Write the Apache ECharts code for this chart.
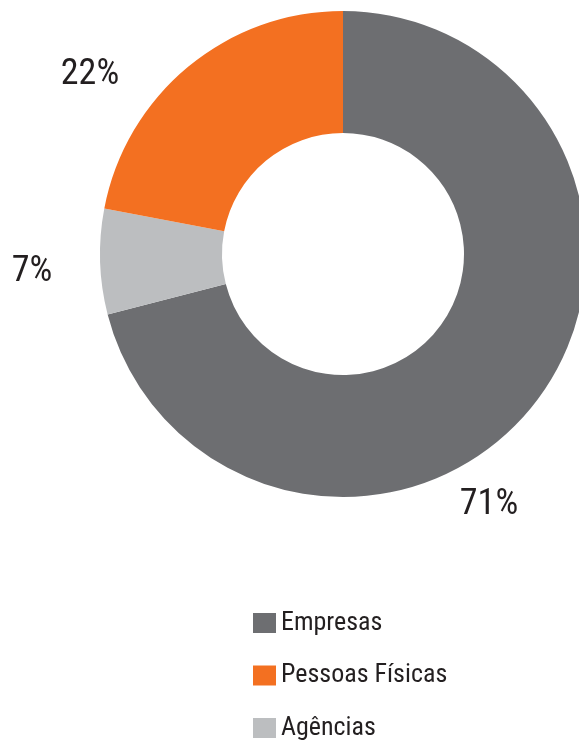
<!DOCTYPE html>
<html><head><meta charset="utf-8">
<style>html,body{margin:0;padding:0;background:#fff}#c{width:579px;height:742px}</style>
<script src="https://cdn.jsdelivr.net/npm/echarts@6/dist/echarts.min.js"></script>
</head><body><div id="c"></div>
<script>
const categories = ['Empresas', 'Agências', 'Pessoas Físicas'];
const values = [71, 7, 22];
const legendOrder = ['Empresas', 'Pessoas Físicas', 'Agências'];
const colors = ['#6d6e71', '#bcbec0', '#f37021'];

const labelPos = [[489, 505], [32, 272], [90, 75]];
const FONT = '"Roboto Condensed", "DejaVu Sans Condensed", sans-serif';

const chart = echarts.init(document.getElementById('c'));
chart.setOption({
  animation: false,
  backgroundColor: '#fff',
  legend: {
    orient: 'vertical',
    left: 253,
    top: 610,
    height: 200,
    padding: 0,
    data: legendOrder,
    icon: 'rect',
    itemWidth: 23,
    itemHeight: 20,
    itemGap: 26.5,
    textStyle: { fontFamily: FONT, fontSize: 26, fontWeight: 'normal', color: '#231f20' },
    selectedMode: false
  },
  series: [{
    type: 'pie',
    center: [343, 254],
    radius: [121, 243],
    startAngle: 90,
    clockwise: true,
    silent: true,
    data: categories.map((n, i) => ({ name: n, value: values[i], itemStyle: { color: colors[i] } })),
    label: {
      show: true,
      formatter: '{c}%',
      fontFamily: FONT,
      fontSize: 36,
      fontWeight: 'normal',
      color: '#231f20',
      overflow: 'none',
      width: 100
    },
    labelLine: { show: false },
    labelLayout: function (p) {
      const pos = labelPos[p.dataIndex];
      return { x: pos[0], y: pos[1], align: 'center', verticalAlign: 'middle' };
    }
  }]
});
</script></body></html>
